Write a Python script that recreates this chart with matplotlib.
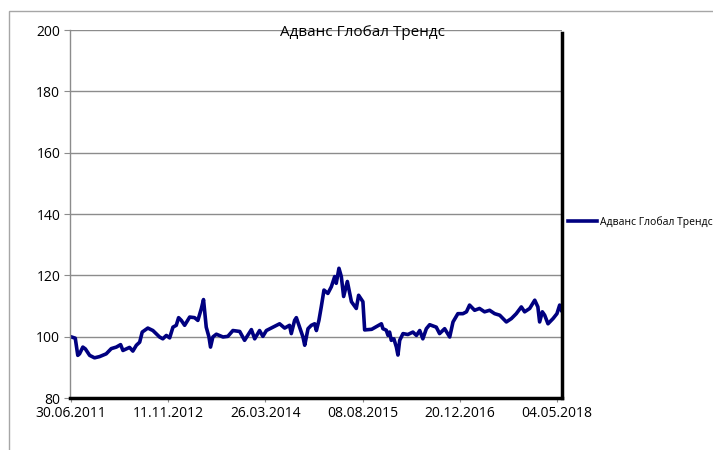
import pandas as pd
import matplotlib.pyplot as plt
import matplotlib.dates as mdates
from matplotlib.patches import Rectangle

plt.rcParams['font.family'] = ['Open Sans', 'DejaVu Sans']

series_name = 'Адванс Глобал Трендс'

dates = [
    '2011-06-30', '2011-07-24', '2011-08-06', '2011-08-15', '2011-09-01', '2011-09-14',
    '2011-10-06', '2011-10-31', '2011-11-26', '2011-12-30', '2012-01-25', '2012-02-20',
    '2012-03-13', '2012-03-25', '2012-04-28', '2012-05-15', '2012-06-02', '2012-06-19',
    '2012-07-02', '2012-07-31', '2012-08-26', '2012-09-29', '2012-10-16', '2012-11-03',
    '2012-11-20', '2012-12-07', '2012-12-24', '2013-01-05', '2013-01-19', '2013-02-05',
    '2013-03-03', '2013-03-28', '2013-04-14', '2013-05-02', '2013-05-13', '2013-05-27',
    '2013-06-10', '2013-06-18', '2013-06-30', '2013-07-18', '2013-08-21', '2013-09-15',
    '2013-10-11', '2013-11-15', '2013-12-10', '2014-01-14', '2014-01-31', '2014-02-25',
    '2014-03-14', '2014-04-01', '2014-05-05', '2014-06-08', '2014-07-04', '2014-07-29',
    '2014-08-07', '2014-08-24', '2014-09-02', '2014-09-19', '2014-10-06', '2014-10-15',
    '2014-11-01', '2014-11-18', '2014-12-05', '2014-12-14', '2014-12-27', '2015-01-08',
    '2015-01-22', '2015-02-11', '2015-03-01', '2015-03-18', '2015-03-26', '2015-04-09',
    '2015-04-21', '2015-05-03', '2015-05-22', '2015-06-12', '2015-07-07', '2015-07-19',
    '2015-08-10', '2015-08-19', '2015-09-24', '2015-11-13', '2015-11-21', '2015-12-08',
    '2015-12-17', '2015-12-25', '2016-01-03', '2016-01-16', '2016-01-29', '2016-02-06',
    '2016-02-15', '2016-03-03', '2016-03-28', '2016-04-23', '2016-05-11', '2016-05-28',
    '2016-06-13', '2016-07-01', '2016-07-18', '2016-08-21', '2016-09-07', '2016-10-03',
    '2016-10-29', '2016-11-15', '2016-12-10', '2017-01-05', '2017-01-23', '2017-02-08',
    '2017-03-06', '2017-03-31', '2017-04-26', '2017-05-22', '2017-06-17', '2017-07-13',
    '2017-08-16', '2017-09-11', '2017-10-06', '2017-11-01', '2017-11-18', '2017-12-14',
    '2018-01-09', '2018-01-25', '2018-02-03', '2018-02-17', '2018-03-01', '2018-03-18',
    '2018-04-13', '2018-05-03', '2018-05-17', '2018-05-26',
]
values = [
    100.0, 99.5, 93.9, 94.4, 96.6, 96.0,
    93.9, 93.1, 93.5, 94.4, 96.1, 96.6,
    97.4, 95.5, 96.5, 95.3, 97.2, 98.2,
    101.5, 102.8, 102.0, 99.9, 99.3, 100.4,
    99.6, 103.1, 103.7, 106.2, 105.3, 103.7,
    106.4, 106.2, 105.3, 109.2, 112.1, 103.1,
    99.9, 96.6, 99.9, 100.8, 99.9, 100.1,
    102.0, 101.7, 98.8, 102.3, 99.3, 102.0,
    100.1, 102.0, 103.1, 104.2, 102.8, 103.7,
    101.0, 105.3, 106.2, 103.1, 99.9, 97.2,
    102.6, 103.7, 104.2, 102.0, 105.3, 109.7,
    115.2, 114.1, 116.3, 119.6, 117.4, 122.3,
    119.6, 113.1, 118.0, 111.4, 109.2, 113.5,
    111.4, 102.2, 102.4, 104.2, 102.6, 102.1,
    100.4, 101.5, 98.8, 99.3, 96.6, 94.0,
    98.8, 101.0, 100.7, 101.5, 100.4, 102.0,
    99.3, 102.6, 103.9, 103.1, 101.0, 102.6,
    99.9, 104.8, 107.5, 107.5, 108.1, 110.3,
    108.6, 109.2, 108.1, 108.6, 107.5, 107.0,
    104.8, 105.9, 107.5, 109.7, 108.1, 109.2,
    111.9, 109.7, 104.8, 108.1, 107.0, 104.2,
    105.9, 107.5, 110.3, 108.6,
]
tick_labels = ['30.06.2011', '11.11.2012', '26.03.2014', '08.08.2015', '20.12.2016', '04.05.2018']
y_ticks = [80, 100, 120, 140, 160, 180, 200]

x = pd.to_datetime(dates)
tick_dates = pd.to_datetime(tick_labels, format='%d.%m.%Y')

fig = plt.figure(figsize=(7.13, 4.5), dpi=100)
ax = fig.add_axes([70 / 713, 1 - 398 / 450, 492 / 713, 368 / 450])

# outer chart frame (only top and left edges visible)
fig.patches.append(Rectangle((9 / 713, -0.1), 1.0, 1.1 - 11 / 450, transform=fig.transFigure,
                             fill=False, edgecolor='#a6a6a6', linewidth=1.0))

ax.plot(x, values, color='#000080', linewidth=2.6, label=series_name)

ax.set_ylim(80, 200)
ax.set_yticks(y_ticks)
ax.set_xlim(x[0] - pd.Timedelta(days=3), x[-1] + pd.Timedelta(days=3))
ax.set_xticks(mdates.date2num(tick_dates))
ax.set_xticklabels(tick_labels)

ax.grid(axis='y', color='#8c8c8c', linewidth=1.0)
ax.set_axisbelow(True)

ax.spines['top'].set_visible(False)
ax.spines['left'].set_color('#8c8c8c')
ax.spines['left'].set_linewidth(1.0)
ax.spines['bottom'].set_color('black')
ax.spines['bottom'].set_linewidth(2.5)
ax.spines['right'].set_color('black')
ax.spines['right'].set_linewidth(2.5)
ax.spines['right'].set_bounds(80, 199)

ax.tick_params(axis='y', length=4, color='#8c8c8c', labelsize=10, pad=3)
ax.tick_params(axis='x', length=3, color='#8c8c8c', labelsize=10, pad=3)

fig.text(362 / 713, 1 - 33 / 450, series_name, ha='center', va='center', fontsize=11)

ax.legend(loc='center left', bbox_to_anchor=(568 / 713, 1 - 222 / 450),
          bbox_transform=fig.transFigure, frameon=False, fontsize=7.5,
          handlelength=2.8, handletextpad=0.3, borderpad=0, borderaxespad=0)

fig.savefig('out.png', dpi=100)
